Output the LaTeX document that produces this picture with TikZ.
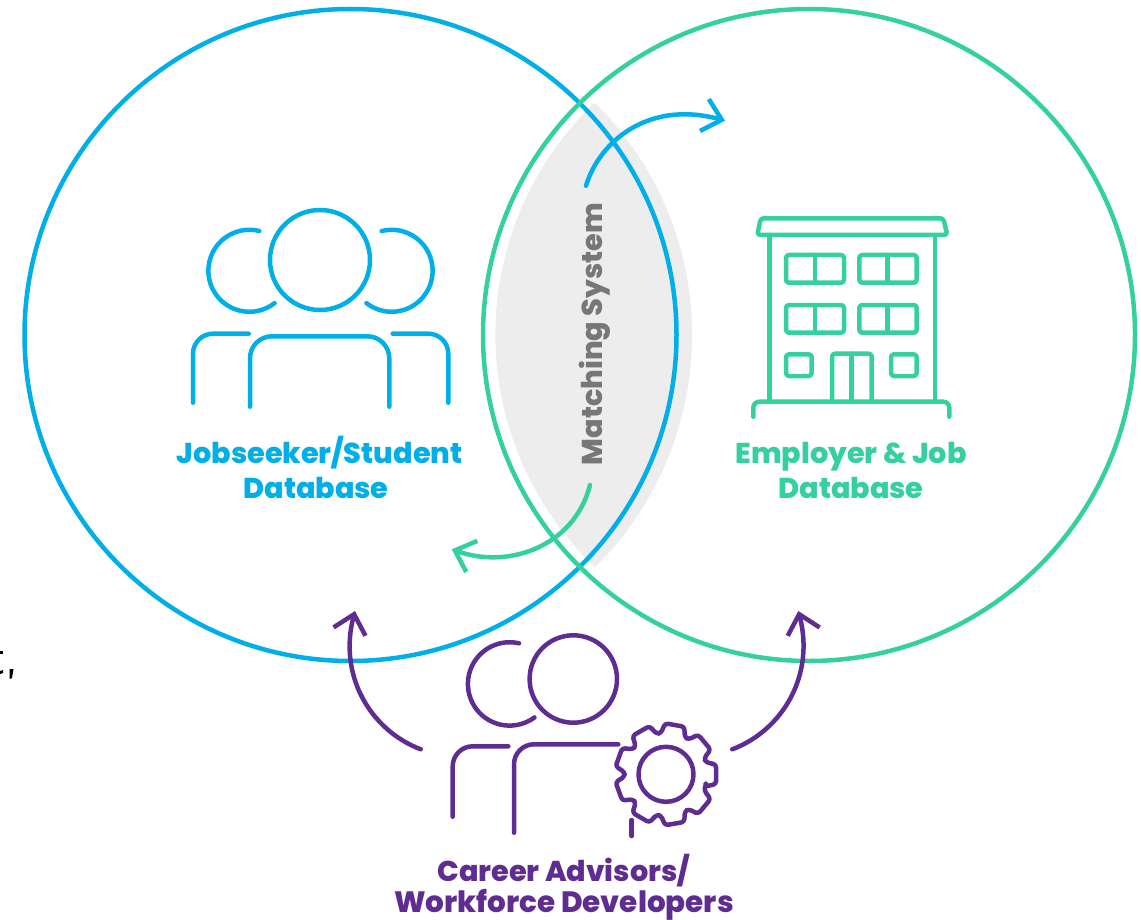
\documentclass[tikz,border=0pt]{standalone}
\usepackage{fontspec}
\setmainfont{Poppins}[BoldFont={Poppins ExtraBold}]
\usetikzlibrary{arrows.meta}
\definecolor{cblue}{HTML}{00AEE8}
\definecolor{cgreen}{HTML}{34D0A0}
\definecolor{cpurple}{HTML}{5F2D91}
\definecolor{cgrey}{HTML}{777777}
\definecolor{clens}{HTML}{EDEDED}
\tikzset{
  ring/.style={circle,draw=#1,line width=4.5pt,minimum size=652pt,inner sep=0pt,outer sep=0pt},
  icon/.style={draw=#1,line width=4.5pt,line cap=round,line join=round},
  flow/.style={draw=#1,line width=4.5pt,line cap=round,-{Straight Barb[length=18pt,width=33pt,line width=4.5pt]}},
  lab/.style={text=#1,font=\fontsize{28.7}{34}\selectfont\bfseries,anchor=base,inner sep=0pt},
}
\begin{document}
\begin{tikzpicture}[x=1pt,y=1pt]
\useasboundingbox (0,0) rectangle (1141,-920);
% lens
\fill[clens] (595,-103) arc[start angle=45.4,end angle=-45.4,radius=326] arc[start angle=226.4,end angle=133.6,radius=321] -- cycle;
% circles
\node[ring=cblue] (jobs) at (350.5,-335) {};
\node[ring=cgreen] (employer) at (809,-335) {};
% labels
\node[lab=cblue] (jobsA) at (319.5,-463) {Jobseeker/Student};
\node[lab=cblue] (jobsB) at (316,-498) {Database};
\node[lab=cgreen] (empA) at (851,-463) {Employer \& Job};
\node[lab=cgreen] (empB) at (851,-498) {Database};
\node[lab=cpurple] (advA) at (563.5,-881) {Career Advisors/};
\node[lab=cpurple,font=\fontsize{29.4}{34}\selectfont\bfseries] (advB) at (564,-912.5) {Workforce Developers};
\node[lab=cgrey,rotate=90] (match) at (602,-334) {Matching System};
% people (jobseekers)
\draw[icon=cblue] (320,-260) circle (50);
\draw[icon=cblue] (259.3,-231) arc[start angle=76,end angle=308,radius=41];
\draw[icon=cblue] (381.7,-231) arc[start angle=104,end angle=-128,radius=41];
\draw[icon=cblue,rounded corners=20pt] (248.7,-333.7) -- (193,-333.7) -- (193,-402.7);
\draw[icon=cblue,rounded corners=20pt] (392.7,-333.7) -- (448.3,-333.7) -- (448.3,-402.7);
\draw[icon=cblue,rounded corners=22pt] (250,-406.7) -- (250,-336.3) -- (389.3,-336.3) -- (389.3,-406.7);
% building
\draw[icon=cgreen,rounded corners=3pt] (757.3,-235) -- (760.7,-218.3) -- (943.3,-218.3) -- (947.3,-235) -- cycle;
\draw[icon=cgreen] (769.3,-235) -- (769.3,-401.7);
\draw[icon=cgreen] (935,-235) -- (935,-401.7);
\draw[icon=cgreen,rounded corners=6pt] (753.3,-416.7) -- (753.3,-401.7) -- (949.3,-401.7) -- (949.3,-416.7);
\foreach \yt/\yb in {255/282.7,305/332.7}{
  \draw[icon=cgreen,rounded corners=3pt] (786,-\yt) rectangle (844,-\yb);
  \draw[icon=cgreen] (815,-\yt) -- (815,-\yb);
  \draw[icon=cgreen,rounded corners=3pt] (859.3,-\yt) rectangle (916.7,-\yb);
  \draw[icon=cgreen] (887.7,-\yt) -- (887.7,-\yb);
}
\draw[icon=cgreen,rounded corners=3pt] (786,-354.3) rectangle (811.7,-376);
\draw[icon=cgreen,rounded corners=3pt] (891,-354.3) rectangle (916.7,-376);
\draw[icon=cgreen,rounded corners=3pt] (832,-401.7) -- (832,-353.7) -- (871.7,-353.7) -- (871.7,-401.7);
\draw[icon=cgreen] (851.7,-353.7) -- (851.7,-401.7);
% advisors
\draw[icon=cpurple] (573.3,-679) circle (43.7);
\draw[icon=cpurple] (519,-643.3) arc[start angle=77,end angle=306.6,radius=41.7];
\draw[icon=cpurple,rounded corners=20pt] (508.3,-746.3) -- (452.7,-746.3) -- (452.7,-816.7);
\draw[icon=cpurple,rounded corners=20pt] (618.3,-744.3) -- (514,-744.3) -- (514,-832.7);
\draw[icon=cpurple] (631.7,-820) -- (631.7,-836);
\begin{scope}[shift={(666,-774.3)}]
\draw[icon=cpurple] (0,0) circle (27.5);
\draw[icon=cpurple,rounded corners=3pt] (-17:41.5) \foreach \a in {0,40,...,320}{ -- (\a-17:41.5) -- (\a-11:51) -- (\a+11:51) -- (\a+17:41.5) } -- cycle;
\end{scope}
% connector ends
\coordinate (bs) at (586,-185.7);
\coordinate (bt) at (725,-120.7);
\coordinate (gs) at (590,-485);
\coordinate (gt) at (451.7,-549.3);
\coordinate (ls) at (420.7,-749.3);
\coordinate (lt) at (355,-611);
\coordinate (rs) at (732.3,-749.3);
\coordinate (rt) at (798.3,-611);
\draw[flow=cblue] (bs) .. controls (600,-140) and (650,-100) .. (bt);
\draw[flow=cgreen] (gs) .. controls (575,-545) and (510,-570) .. (gt);
\draw[flow=cpurple] (ls) .. controls (370,-730) and (338,-675) .. (lt);
\draw[flow=cpurple] (rs) .. controls (783,-730) and (815,-675) .. (rt);
% stray marks at the left edge
\fill[black] (0,-651) rectangle (3,-654);
\fill[black] (0,-671) -- (3,-670) -- (3,-673) -- (0,-674) -- cycle;
\fill[black] (9.5,-669) -- (13.5,-669) -- (12,-678) -- (9.5,-679) -- cycle;
\end{tikzpicture}
\end{document}
